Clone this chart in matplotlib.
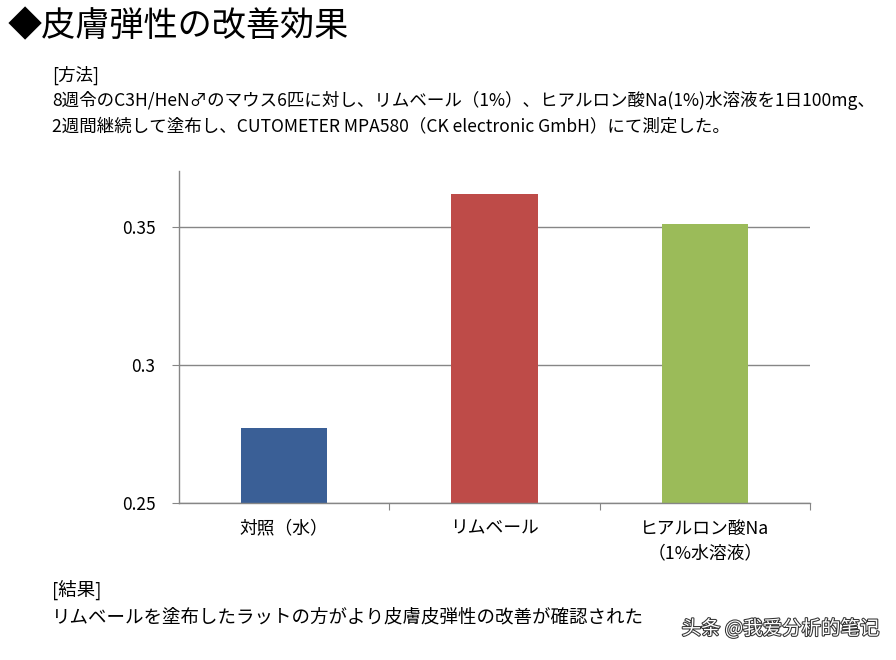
import matplotlib.pyplot as plt
import matplotlib.patheffects as pe

plt.rcParams['font.family'] = ['Noto Sans CJK JP', 'DejaVu Sans']

# データ
categories = ['対照（水）', 'リムベール', 'ヒアルロン酸Na\n（1%水溶液）']
values = [0.277, 0.362, 0.351]
colors = ['#3A5F96', '#BE4B48', '#9BBB59']
yticks = [0.25, 0.3, 0.35]
ytick_labels = ['0.25', '0.3', '0.35']

title = '◆皮膚弾性の改善効果'
method_lines = [
    '[方法]',
    '8週令のC3H/HeN♂のマウス6匹に対し、リムベール（1%）、ヒアルロン酸Na(1%)水溶液を1日100mg、',
    '2週間継続して塗布し、CUTOMETER MPA580（CK electronic GmbH）にて測定した。',
]
result_lines = [
    '[結果]',
    'リムベールを塗布したラットの方がより皮膚皮弾性の改善が確認された',
]
watermark = '头条 @我爱分析的笔记'

fig = plt.figure(figsize=(8.96, 6.60), dpi=100)
ax = fig.add_axes([0.1998, 0.2379, 0.7042, 0.503])

x = range(len(categories))
ax.bar(x, values, width=0.41, color=colors, zorder=3, bottom=0)
ax.set_xlim(-0.5, len(categories) - 0.5)
ax.set_ylim(0.25, 0.3703)

ax.set_yticks(yticks)
ax.set_yticklabels(ytick_labels, fontsize=12.5)
ax.yaxis.grid(True, color='#868686', linewidth=1.0, zorder=0)

# x軸: カテゴリ境界に目盛り
ax.set_xticks([i + 0.5 for i in x])
ax.set_xticklabels([])
ax.set_xticks(list(x), minor=True)
ax.set_xticklabels(categories, minor=True, fontsize=12.8, linespacing=1.5)
ax.tick_params(axis='x', which='minor', length=0, pad=12)
ax.tick_params(axis='x', which='major', length=5, color='#868686', direction='out')
ax.tick_params(axis='y', length=5, color='#868686', direction='out', pad=12)

for s in ['top', 'right']:
    ax.spines[s].set_visible(False)
for s in ['left', 'bottom']:
    ax.spines[s].set_color('#868686')
    ax.spines[s].set_linewidth(1.0)
    ax.spines[s].set_zorder(4)

# テキスト
fig.text(8 / 896, 1 - 27 / 660, title, fontsize=24.6, va='center', ha='left')
ys = [75, 101, 127]
for line, y in zip(method_lines, ys):
    fig.text(52 / 896, 1 - y / 660, line, fontsize=12.6, va='center', ha='left')
ys = [590, 617]
for line, y in zip(result_lines, ys):
    fig.text(52 / 896, 1 - y / 660, line, fontsize=13.3, va='center', ha='left')

fig.text(880 / 896, 1 - 629 / 660, watermark, fontsize=14, va='center', ha='right',
         color='white', family=['Noto Sans CJK SC', 'DejaVu Sans'],
         path_effects=[pe.withStroke(linewidth=1.5, foreground='#333333')])

fig.savefig('out.png', dpi=100, facecolor='white')
